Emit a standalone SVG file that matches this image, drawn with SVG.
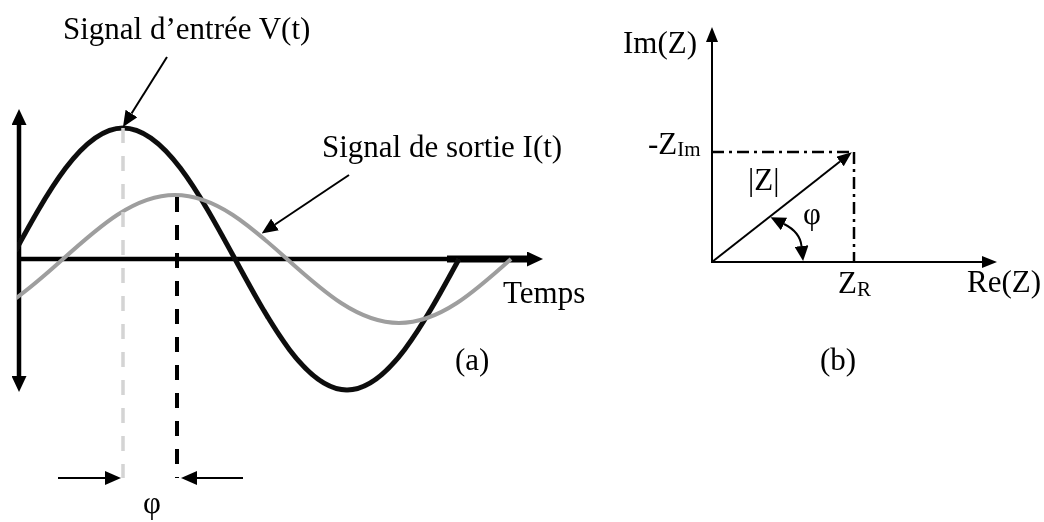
<svg xmlns="http://www.w3.org/2000/svg" width="1044" height="522" viewBox="0 0 1044 522">
<style>
text{font-family:"Liberation Serif","Times New Roman",serif;fill:#000;font-size:31px}
.sub{font-size:21px}
.ln{fill:none;stroke:#000;stroke-width:2}
.ax{fill:none;stroke:#000;stroke-width:4.5}
.dd{fill:none;stroke:#000;stroke-width:2.5;stroke-dasharray:12 5 3 5}
</style>
<defs>
<marker id="big" viewBox="0 0 16 15" refX="0" refY="7.5" markerWidth="16" markerHeight="15" markerUnits="userSpaceOnUse" orient="auto-start-reverse"><path d="M0,0 L16,7.5 L0,15 z" fill="#000"/></marker>
<marker id="sm" viewBox="0 0 16 14" refX="0" refY="7" markerWidth="16" markerHeight="14" markerUnits="userSpaceOnUse" orient="auto-start-reverse"><path d="M0,0 L16,7 L0,14 z" fill="#000"/></marker>
<marker id="ax2" viewBox="0 0 15 12" refX="0" refY="6" markerWidth="15" markerHeight="12" markerUnits="userSpaceOnUse" orient="auto-start-reverse"><path d="M0,0 L15,6 L0,12 z" fill="#000"/></marker>
<marker id="arc" viewBox="0 0 15 14" refX="0" refY="7" markerWidth="15" markerHeight="14" markerUnits="userSpaceOnUse" orient="auto-start-reverse"><path d="M0,0 L15,7 L0,14 z" fill="#000"/></marker>
<clipPath id="clipL"><rect x="17" y="0" width="600" height="522"/></clipPath>
<filter id="soft" x="-5%" y="-5%" width="110%" height="110%"><feGaussianBlur stdDeviation="0.7"/></filter>
</defs>

<g id="panel-a" filter="url(#soft)">
  <g id="axes-a">
    <line class="ax" x1="19" y1="125" x2="19" y2="376" marker-start="url(#big)" marker-end="url(#big)"/>
    <line class="ax" x1="19" y1="259" x2="527" y2="259" marker-end="url(#big)"/>
    <line x1="447" y1="259" x2="527" y2="259" stroke="#000" stroke-width="7"/>
  </g>
  <g id="signal-v" clip-path="url(#clipL)">
    <path d="M11,259 C47.5,191.9 82.5,128 123,128 C163.5,128 198.5,191.9 235,259 C271.5,326.1 306.5,390 347,390 C387.5,390 422.5,326.1 459,259" fill="none" stroke="#111" stroke-width="5"/>
  </g>
  <g id="signal-i" clip-path="url(#clipL)">
    <path d="M-49,323 C-8.5,323 26.5,291.8 63,259 C99.5,226.2 134.5,195 175,195 C215.5,195 250.5,226.2 287,259 C323.5,291.8 358.5,323 399,323 C439.5,323 474.5,291.8 511,259" fill="none" stroke="#9e9e9e" stroke-width="4"/>
  </g>
  <g id="phase-lines">
    <line x1="123" y1="128" x2="123" y2="478" stroke="#d4d4d4" stroke-width="3.5" stroke-dasharray="15 13"/>
    <line x1="177" y1="197" x2="177" y2="478" stroke="#000" stroke-width="4" stroke-dasharray="15 13"/>
  </g>
</g>

<g id="connectors">
  <line class="ln" x1="167" y1="57" x2="131.5" y2="113.5" marker-end="url(#sm)"/>
  <line class="ln" x1="349" y1="175" x2="275" y2="224.5" marker-end="url(#sm)"/>
  <line class="ln" x1="58" y1="478" x2="105" y2="478" marker-end="url(#sm)"/>
  <line class="ln" x1="243" y1="478" x2="197" y2="478" marker-end="url(#sm)"/>
</g>

<g id="labels-a">
  <g id="label-v"><text x="63" y="39" font-size="32">Signal d’entrée V(t)</text></g>
  <g id="label-i"><text x="322" y="157">Signal de sortie I(t)</text></g>
  <g id="label-temps"><text x="503" y="303">Temps</text></g>
  <g id="label-a"><text x="455" y="370">(a)</text></g>
  <g id="label-phi-a"><text x="152" y="513" text-anchor="middle" font-size="26">φ</text></g>
</g>

<g id="panel-b">
  <g id="axes-b">
    <line class="ln" x1="712" y1="263" x2="712" y2="42" marker-end="url(#ax2)"/>
    <line class="ln" x1="711" y1="262" x2="982" y2="262" marker-end="url(#ax2)"/>
  </g>
  <g id="projections">
    <line class="dd" x1="712" y1="152" x2="854" y2="152"/>
    <line class="dd" x1="854" y1="152" x2="854" y2="262"/>
  </g>
  <g id="vector-z">
    <line class="ln" x1="712" y1="262" x2="840" y2="161.5" marker-end="url(#ax2)"/>
  </g>
  <g id="angle-arc">
    <path class="ln" d="M784,224 Q800,232 801.5,246" marker-start="url(#arc)" marker-end="url(#arc)"/>
  </g>
  <g id="label-imz"><text x="623" y="53">Im(Z)</text></g>
  <g id="label-zim"><text x="648" y="154">-Z<tspan class="sub" dy="2">Im</tspan></text></g>
  <g id="label-absz"><text x="748" y="190">|Z|</text></g>
  <g id="label-phi-b"><text x="812" y="224" text-anchor="middle" font-size="26">φ</text></g>
  <g id="label-zr"><text x="838" y="293">Z<tspan class="sub" dy="3">R</tspan></text></g>
  <g id="label-rez"><text x="967" y="292">Re(Z)</text></g>
  <g id="label-b"><text x="820" y="370">(b)</text></g>
</g>
</svg>
